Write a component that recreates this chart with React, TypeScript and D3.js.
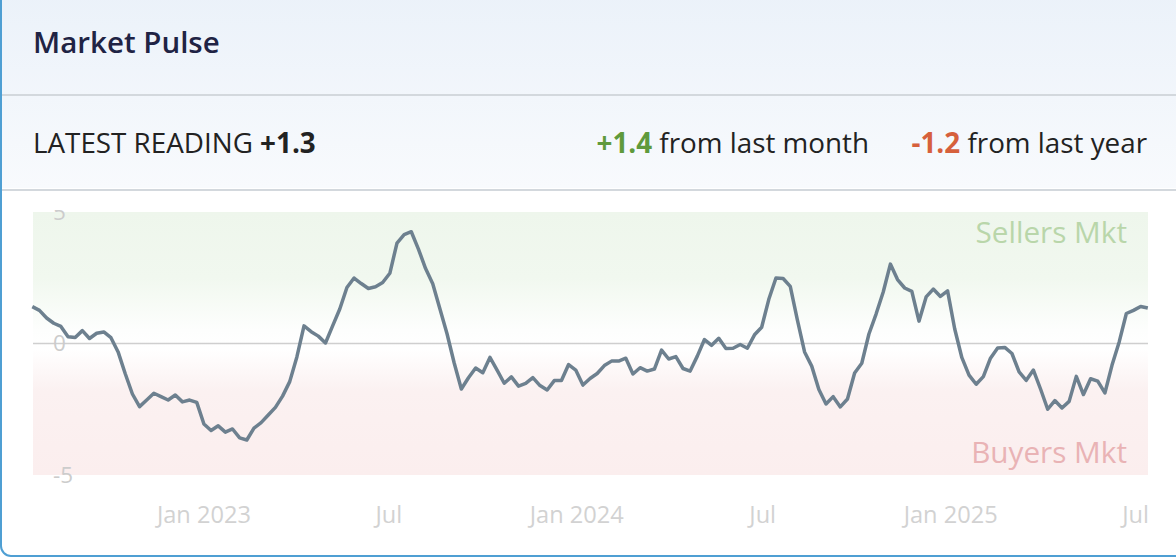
import React from "react";
import * as d3 from "d3";

const TITLE = "Market Pulse";
const LATEST = "+1.3";
const MONTH_CHANGE = "+1.4";
const YEAR_CHANGE = "-1.2";

const START_DATE = new Date(2022, 6, 17);
const pulseValues: number[] = [
  1.40, 1.26, 0.97, 0.77, 0.65, 0.26, 0.23, 0.49, 0.19, 0.39,
  0.44, 0.22, -0.32, -1.15, -1.92, -2.40, -2.15, -1.89, -2.02, -2.15,
  -1.96, -2.22, -2.15, -2.24, -3.06, -3.31, -3.13, -3.37, -3.25, -3.59,
  -3.67, -3.22, -3.01, -2.72, -2.43, -2.00, -1.45, -0.51, 0.67, 0.45,
  0.28, 0.02, 0.67, 1.31, 2.13, 2.49, 2.28, 2.09, 2.16, 2.32,
  2.67, 3.82, 4.14, 4.25, 3.59, 2.85, 2.27, 1.32, 0.37, -0.74,
  -1.73, -1.30, -0.93, -1.11, -0.53, -1.01, -1.51, -1.27, -1.62, -1.52,
  -1.30, -1.60, -1.77, -1.41, -1.41, -0.80, -1.01, -1.58, -1.33, -1.14,
  -0.84, -0.67, -0.67, -0.56, -1.16, -0.92, -1.05, -0.97, -0.25, -0.59,
  -0.50, -0.95, -1.05, -0.48, 0.15, -0.07, 0.20, -0.19, -0.18, -0.04,
  -0.18, 0.33, 0.62, 1.68, 2.49, 2.47, 2.17, 0.89, -0.32, -0.86,
  -1.75, -2.30, -2.02, -2.41, -2.11, -1.12, -0.75, 0.36, 1.12, 1.96,
  3.02, 2.43, 2.11, 1.98, 0.85, 1.77, 2.07, 1.79, 2.00, 0.55,
  -0.54, -1.20, -1.55, -1.26, -0.56, -0.17, -0.15, -0.38, -1.08, -1.40,
  -1.01, -1.73, -2.50, -2.17, -2.45, -2.20, -1.25, -1.94, -1.34, -1.43,
  -1.88, -0.82, 0.06, 1.14, 1.26, 1.41, 1.35,
];

const yTickValues = [5, 0, -5];
const xTickDates = [
  new Date(2023, 0, 1), new Date(2023, 6, 1), new Date(2024, 0, 1),
  new Date(2024, 6, 1), new Date(2025, 0, 1), new Date(2025, 6, 1),
];

const W = 1176;
const H = 558;
const PL = 33, PR = 1148, PT = 212, PB = 475;
const FONT = "'Open Sans', 'Noto Sans', sans-serif";

export default function App() {
  const data = pulseValues.map((v, i) => ({ date: d3.timeWeek.offset(START_DATE, i), value: v }));
  const x = d3.scaleTime()
    .domain([data[0].date, data[data.length - 1].date])
    .range([32.3, 1147.8]);
  const y = d3.scaleLinear().domain([-5, 5]).range([PB, PT]);
  const line = d3.line<{ date: Date; value: number }>()
    .x(d => x(d.date))
    .y(d => y(d.value))
    .curve(d3.curveLinear);
  const fmt = (d: Date) => (d.getMonth() === 0 ? d3.timeFormat("%b %Y")(d) : d3.timeFormat("%b")(d));

  return (
    <div style={{ position: "absolute", left: 0, top: 0, width: W, height: H, background: "#fff" }}>
      <svg width={W} height={H} style={{ display: "block" }} fontFamily={FONT}>
        <defs>
          <linearGradient id="hdr" x1="0" y1="0" x2="0" y2="1">
            <stop offset="0%" stopColor="#eaf1f9" />
            <stop offset="100%" stopColor="#f8fafd" />
          </linearGradient>
          <linearGradient id="plotbg" x1="0" y1="0" x2="0" y2="1">
            <stop offset="0%" stopColor="#eef6ec" />
            <stop offset="25%" stopColor="#f1f8ef" />
            <stop offset="45%" stopColor="#fdfefd" />
            <stop offset="52%" stopColor="#ffffff" />
            <stop offset="68%" stopColor="#fbf1f1" />
            <stop offset="100%" stopColor="#fbeeee" />
          </linearGradient>
          <clipPath id="yclip">
            <rect x={0} y={210} width={W} height={H - 210} />
          </clipPath>
          <clipPath id="xclip">
            <rect x={0} y={480} width={PR} height={70} />
          </clipPath>
        </defs>

        {/* card */}
        <rect x={1} y={-20} width={W + 20} height={576} rx={10} fill="#fff" stroke="#4f9fd3" strokeWidth={2} />
        <path d={`M2,-20 L2,188 L${W},188 L${W},-20 Z`} fill="url(#hdr)" />
        <line x1={2} x2={W} y1={95} y2={95} stroke="#d3d8dd" strokeWidth={2} />
        <line x1={2} x2={W} y1={190} y2={190} stroke="#d3d8dd" strokeWidth={2} />

        <text x={33} y={53} fontSize={29.5} fontWeight={600} fill="#1f2344">{TITLE}</text>

        <text x={33} y={152.5} fontSize={27.8} fill="#222">
          LATEST READING <tspan fontWeight={700}>{LATEST}</tspan>
        </text>
        <text x={869} y={152.5} fontSize={27.8} fill="#222" textAnchor="end">
          <tspan fontWeight={700} fill="#5f9a3c">{MONTH_CHANGE}</tspan> from last month
        </text>
        <text x={1147} y={152.5} fontSize={27.8} fill="#222" textAnchor="end">
          <tspan fontWeight={700} fill="#d6603c">{YEAR_CHANGE}</tspan> from last year
        </text>

        {/* plot */}
        <rect x={PL} y={PT} width={PR - PL} height={PB - PT} fill="url(#plotbg)" />
        <line x1={PL} x2={PR} y1={y(0)} y2={y(0)} stroke="#cfcfcf" strokeWidth={1.5} />

        <g clipPath="url(#yclip)">
          {yTickValues.map(v => (
            <text key={v} x={53} y={y(v)} dy="0.35em" fontSize={22.5} fill="#cccccc">{v}</text>
          ))}
        </g>

        <text x={1127} y={243} fontSize={29.7} fill="#b9d6aa" textAnchor="end">Sellers Mkt</text>
        <text x={1127} y={463} fontSize={29.7} fill="#e9b3b5" textAnchor="end">Buyers Mkt</text>

        <path d={line(data) || ""} fill="none" stroke="#6d808f" strokeWidth={3.5} strokeLinejoin="round" />

        <g clipPath="url(#xclip)">
          {xTickDates.map((d, i) => (
            <text key={i} x={x(d)} y={522.5} fontSize={23.6} fill="#d2d2d2" textAnchor="middle">{fmt(d)}</text>
          ))}
        </g>
      </svg>
    </div>
  );
}
